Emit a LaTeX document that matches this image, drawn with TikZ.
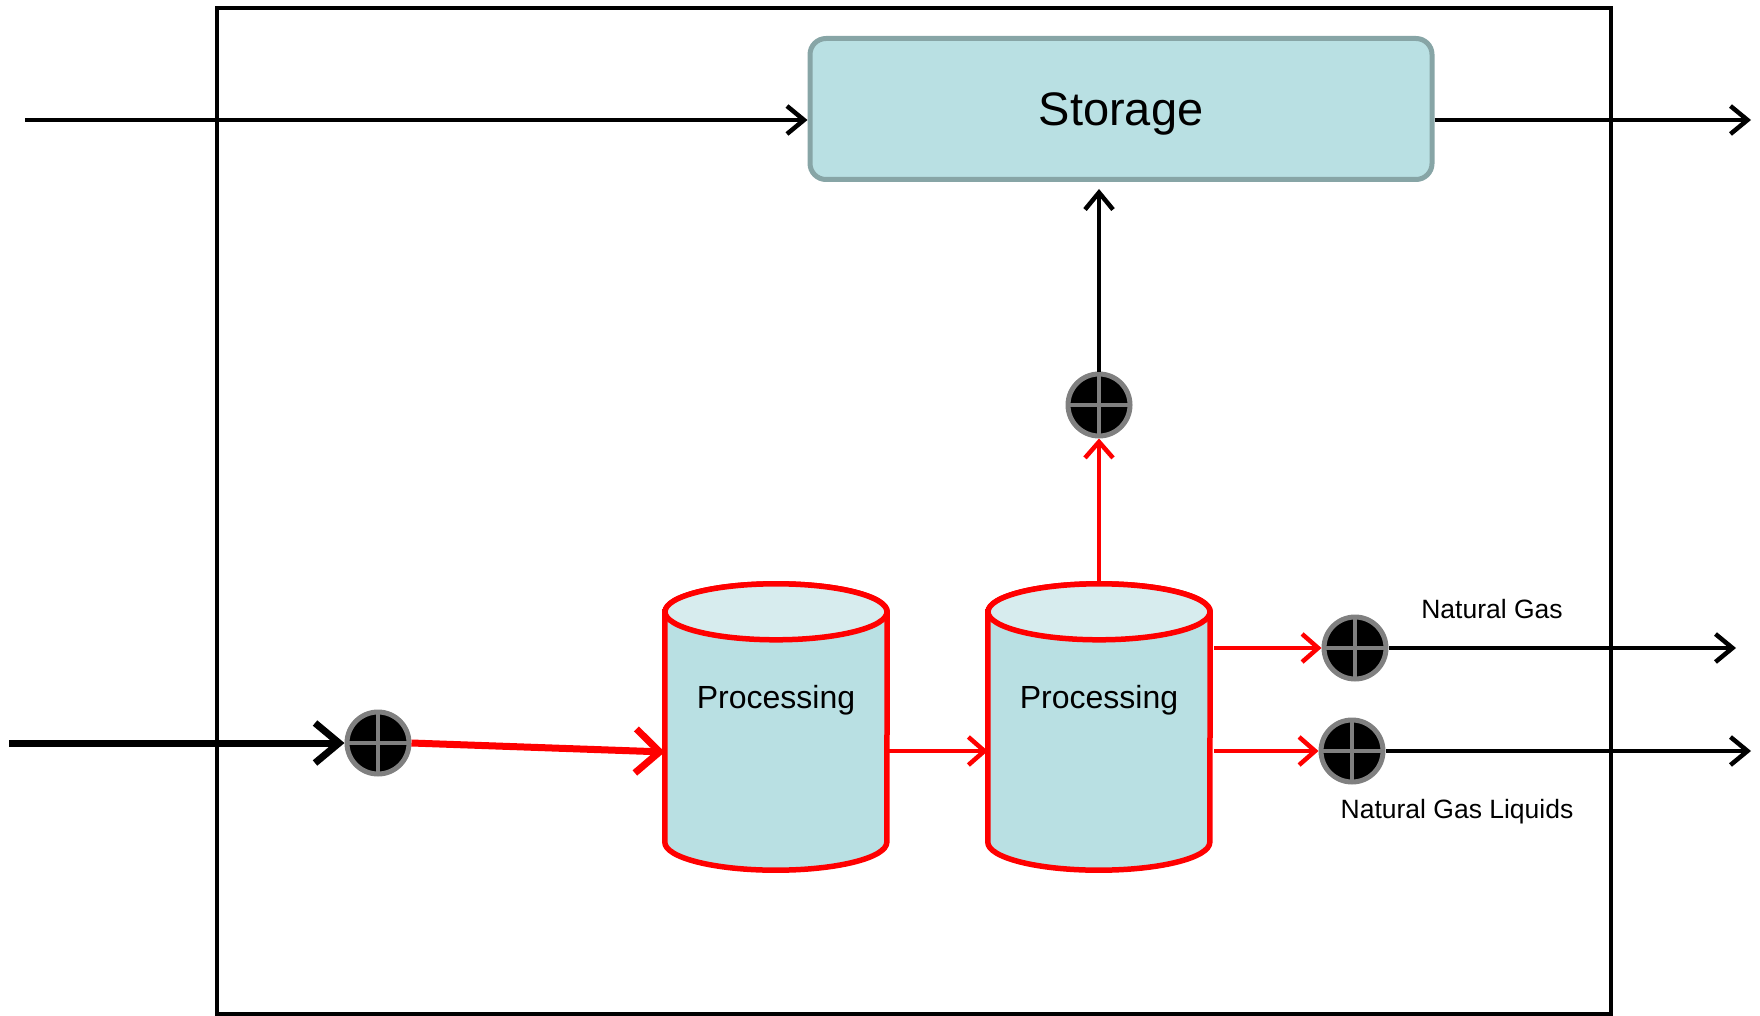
\documentclass[tikz,border=0pt]{standalone}
\usepackage{fontspec}
\setmainfont{Liberation Sans}
\usetikzlibrary{arrows.meta}
\definecolor{tankfill}{HTML}{B9E0E3}
\definecolor{tanktop}{HTML}{D7ECEE}
\definecolor{storeedge}{HTML}{87A5A6}
\newcommand{\junctionSize}[0]{62pt}
% body of a tank node: side walls, bottom arc, then the lid
\newcommand{\drawTank}[1]{%
  \draw[tankline,fill=tankfill] (#1.north west) -- (#1.south west)
    arc[start angle=180,end angle=360,x radius=111pt,y radius=28pt]
    -- (#1.north east)
    arc[start angle=0,end angle=180,x radius=111pt,y radius=28pt] -- cycle;
  \draw[tankline,fill=tanktop] (#1.north) ellipse[x radius=111pt,y radius=28pt];}

\begin{document}
\begin{tikzpicture}[x=1pt,y=-1pt]
  \tikzset{
    blk/.style={draw=black,line width=4.5pt,-{Straight Barb[length=17pt,width=28pt,line width=4.5pt]}},
    blkthick/.style={draw=black,line width=7pt,-{Straight Barb[length=24pt,width=40pt,line width=7pt]}},
    redline/.style={draw=red,line width=4.5pt,-{Straight Barb[length=16pt,width=28pt,line width=4.5pt]}},
    redthick/.style={draw=red,line width=7pt,-{Straight Barb[length=24pt,width=44pt,line width=7pt]}},
    store/.style={rectangle,rounded corners=16pt,draw=storeedge,line width=5pt,fill=tankfill,
      minimum width=622pt,minimum height=141pt,text height=34pt,text depth=0pt,
      font=\fontsize{47}{50}\selectfont},
    tank/.style={rectangle,inner sep=0pt,minimum width=222pt,minimum height=230pt},
    tankline/.style={draw=red,line width=5.5pt},
    tanklabel/.style={font=\fontsize{32}{36}\selectfont},
    junction/.style={circle,fill=black,draw=gray,line width=5pt,minimum size=\junctionSize,
      path picture={\draw[gray,line width=4pt]
        (path picture bounding box.north) -- (path picture bounding box.south)
        (path picture bounding box.west) -- (path picture bounding box.east);}},
    flowlabel/.style={font=\fontsize{26.5}{30}\selectfont}
  }
  \useasboundingbox (0,0) rectangle (1760,1016);
  % outer boundary
  \draw[line width=4pt] (217,8) rectangle (1611,1014);

  \node[store] (store) at (1121,109) {Storage};
  \node[tank] (tankA) at (776,727) {};
  \node[tank] (tankB) at (1099,727) {};
  \drawTank{tankA}
  \drawTank{tankB}
  \node[tanklabel] (tankAtext) at (776,700) {Processing};
  \node[tanklabel] (tankBtext) at (1099,700) {Processing};

  \node[junction] (junL) at (378,743) {};
  \node[junction] (junTop) at (1099,405) {};
  \node[junction] (junNG) at (1355,648) {};
  \node[junction] (junNGL) at (1352,751) {};

  \node[flowlabel] (ngText) at (1492,609) {Natural Gas};
  \node[flowlabel] (nglText) at (1457,812) {Natural Gas Liquids};

  \coordinate (inTop) at (25,120);
  \coordinate (outTop) at (1751,120);
  \coordinate (storeIn) at (1099,189);
  \coordinate (inLow) at (9,743);
  \coordinate (outNG) at (1736,648);
  \coordinate (outNGL) at (1751,751);

  % flows
  \draw[blk] (inTop) -- (inTop -| store.west);
  \draw[blk] (store.east |- outTop) -- (outTop);
  \draw[blk] (junTop.north) -- (storeIn);
  \draw[blkthick] (inLow) -- (junL.west);
  \draw[redthick] (junL.east) -- ([yshift=-25pt]tankA.west);
  \draw[redline] ([yshift=-24pt]tankA.east) -- ([yshift=-24pt]tankB.west);
  \draw[redline] ([yshift=28pt]tankB.north) -- (junTop.south);
  \draw[redline] ([xshift=4pt]tankB.east |- junNG.west) -- (junNG.west);
  \draw[redline] ([xshift=4pt]tankB.east |- junNGL.west) -- (junNGL.west);
  \draw[blk] (junNG.east) -- (outNG);
  \draw[blk] (junNGL.east) -- (outNGL);
\end{tikzpicture}
\end{document}
